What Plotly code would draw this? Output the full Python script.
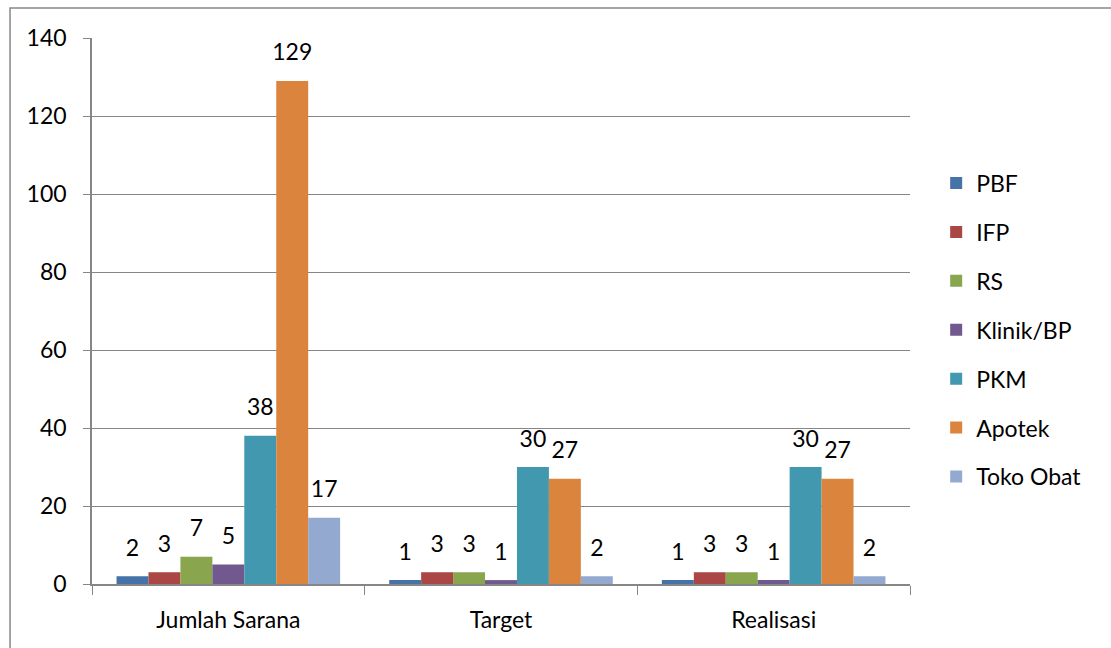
import plotly.graph_objects as go

categories = ["Jumlah Sarana", "Target", "Realisasi"]
series_names = ["PBF", "IFP", "RS", "Klinik/BP", "PKM", "Apotek", "Toko Obat"]
pbf = [2, 1, 1]
ifp = [3, 3, 3]
rs = [7, 3, 3]
klinik = [5, 1, 1]
pkm = [38, 30, 30]
apotek = [129, 27, 27]
toko_obat = [17, 2, 2]

series_values = [pbf, ifp, rs, klinik, pkm, apotek, toko_obat]
colors = ["#4572A7", "#AA4643", "#89A54E", "#71588F", "#4198AF", "#DB843D", "#93A9CF"]

FONT = "Lato, 'Open Sans', sans-serif"

fig = go.Figure()
for i, (name, vals) in enumerate(zip(series_names, series_values)):
    fig.add_trace(
        go.Bar(
            x=categories,
            y=vals,
            name=name,
            marker=dict(color=colors[i], line=dict(width=0)),
            offsetgroup=str(i),
            legendgroup=name,
        )
    )

# value labels as grouped scatter text so they can sit a bit higher above the bars
for i, (name, vals) in enumerate(zip(series_names, series_values)):
    fig.add_trace(
        go.Scatter(
            x=categories,
            y=vals,
            mode="markers+text",
            text=vals,
            textposition="top center",
            textfont=dict(size=23, color="#000000"),
            marker=dict(size=22, opacity=0),
            orientation="v",
            offsetgroup=str(i),
            showlegend=False,
            hoverinfo="skip",
            cliponaxis=False,
        )
    )

fig.update_layout(
    width=1111,
    height=648,
    barmode="group",
    scattermode="group",
    bargap=0.18,
    scattergap=0.18,
    bargroupgap=0,
    plot_bgcolor="white",
    paper_bgcolor="white",
    font=dict(family=FONT, size=23, color="#000000"),
    margin=dict(l=92, r=201, t=38, b=64),
    legend=dict(
        x=1.032,
        y=0.465,
        xanchor="left",
        yanchor="middle",
        font=dict(size=23),
        tracegroupgap=16,
        itemwidth=30,
    ),
    xaxis=dict(
        showline=True,
        linecolor="#868686",
        linewidth=1.5,
        ticks="outside",
        tickson="boundaries",
        ticklen=9,
        tickcolor="#868686",
        ticklabelstandoff=15,
        tickfont=dict(size=23),
    ),
    yaxis=dict(
        range=[0, 140],
        dtick=20,
        showline=True,
        linecolor="#868686",
        linewidth=1.5,
        ticks="outside",
        ticklen=7,
        tickcolor="#868686",
        ticklabelstandoff=12,
        showgrid=True,
        gridcolor="#868686",
        gridwidth=1,
        zeroline=False,
        tickfont=dict(size=23),
    ),
    shapes=[
        dict(
            type="rect",
            xref="paper",
            yref="paper",
            x0=-0.1002,
            x1=1.4,
            y0=-0.25,
            y1=1.055,
            line=dict(color="#888888", width=1.5),
            fillcolor="rgba(0,0,0,0)",
            layer="below",
        )
    ],
)

# drop the default page margin so the figure fills the window exactly
fig.write_html(
    "out.html",
    config={"displayModeBar": False},
    post_script="document.body.style.margin='0';document.body.style.overflow='hidden';",
)
